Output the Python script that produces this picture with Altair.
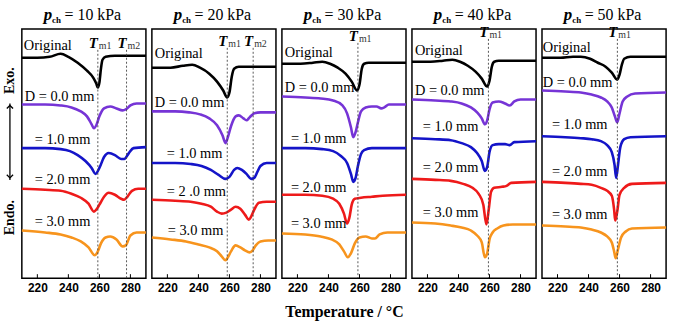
import altair as alt
import pandas as pd

# ---------------- data (T in °C, "endo" = stacked endothermic signal, a.u.) -------------
panels = ["10", "20", "30", "40", "50"]
series = ["Original", "D0", "D1", "D2", "D3"]
colors = ["#000000", "#7634d6", "#1414c8", "#ee1a1a", "#f7941d"]

p10_original = [(210,57),(220,57),(228,56),(235,53),(240,56),(246,62),(252,70),(256,77),(258,83),(259,87),(260,82),(261,68),(262,59),(264,56),(270,55),(290,55)]
p10_d0 = [(210,104),(225,104),(235,105),(242,107),(248,111),(252,116),(255,124),(256.5,128),(258,125),(260,116),(263,108),(267,106),(271,108),(275,110),(277,109),(280,105),(284,103),(290,103)]
p10_d1 = [(210,148),(225,148),(235,149),(241,151),(246,155),(251,161),(255,168),(257.5,174),(260,168),(263,157),(266,153),(270,155),(274,159),(276,159),(279,153),(282,148),(290,147)]
p10_d2 = [(210,189),(225,190),(235,191),(242,194),(248,198),(253,204),(256.5,212),(258,210),(260,205),(263,197),(266,193),(270,195),(274,199),(276,200),(278,197),(281,191),(285,189),(290,189)]
p10_d3 = [(210,231),(225,233),(235,235),(242,238),(248,242),(253,248),(257,256),(259,252),(261,244),(264,238),(267,237),(271,240),(275,247),(277,246),(280,236),(284,233),(290,233)]

p20_original = [(210,67),(222,67),(230,65),(236,64),(241,67),(247,73),(252,81),(256,90),(258.5,97),(260,92),(261.5,76),(263,68),(266,66),(290,66)]
p20_d0 = [(210,111),(225,111),(234,112),(241,114),(247,118),(252,125),(255.5,135),(257.5,143),(259,137),(261,126),(264,116),(266,115),(269,118),(271,120),(273,117),(276,113),(280,112),(290,112)]
p20_d1 = [(210,163),(225,163),(235,164),(242,166),(248,170),(253,175),(257.5,179),(260,177),(263,170),(265,168),(268,170),(271,174),(274,179),(276,178),(278,172),(280,166),(284,163),(290,163)]
p20_d2 = [(210,200),(225,201),(235,202),(242,204),(248,207),(252,212),(255,214),(258,213),(261,210),(264,207),(267,209),(270,215),(272.5,220),(274,217),(276,210),(279,203),(284,202),(290,202)]
p20_d3 = [(210,238),(222,240),(232,242),(240,245),(247,248),(252,252),(255,257),(257.5,261),(259,258),(261,252),(264,246),(267,248),(270,251),(273,253),(275,251),(277,246),(280,242),(285,241),(290,241)]

p30_original = [(210,63),(222,63),(230,62),(236,61),(241,63),(246,67),(251,73),(255,81),(258.5,90),(260,84),(261.5,68),(263,63),(266,62),(290,62)]
p30_d0 = [(210,96),(225,97),(235,98),(243,100),(249,105),(252,113),(254.5,127),(256,137),(257.5,132),(259,122),(261,111),(264,107),(268,106),(271,106),(274,108),(276,107),(279,104),(290,104)]
p30_d1 = [(210,148),(225,148),(236,149),(243,151),(248,156),(252,163),(254.5,174),(256,182),(257.5,178),(259,166),(261,154),(263,150),(268,148),(290,148)]
p30_d2 = [(210,195),(225,195),(236,196),(243,199),(247,204),(250,214),(252,224),(253.5,218),(255,205),(257,199),(261,198),(268,197),(275,196),(290,195)]
p30_d3 = [(210,234),(225,235),(235,237),(242,240),(247,245),(250,252),(252.5,258),(254.5,254),(257,244),(260,238),(264,237),(268,239),(270,239),(273,235),(278,233),(290,233)]

p40_original = [(210,61),(222,61),(230,60),(236,59),(241,61),(246,65),(251,71),(255,78),(258.5,86),(260,80),(261.5,66),(263,61),(266,60),(290,60)]
p40_d0 = [(210,99),(225,100),(235,101),(242,103),(248,107),(252,112),(255,118),(257,124),(258.5,120),(260,109),(262,102),(266,101),(270,103),(273,105),(276,101),(280,99),(290,99)]
p40_d1 = [(210,138),(225,139),(235,140),(242,143),(248,147),(252,153),(255,161),(257,171),(258.5,167),(260,152),(262,145),(266,144),(270,144),(273,145),(276,142),(290,141)]
p40_d2 = [(210,179),(225,180),(235,181),(243,184),(249,188),(253,194),(256,205),(258,225),(259.5,210),(261,192),(263,188),(268,187),(271,186),(274,183),(290,182)]
p40_d3 = [(210,223),(225,224),(235,226),(242,228),(248,231),(252,236),(255,243),(257,258),(258.5,254),(260,240),(262,233),(265,229),(269,226),(275,225),(290,225)]

p50_original = [(210,57),(222,57),(230,56),(235,56),(241,58),(246,62),(251,66),(255,72),(258.5,79),(260,74),(261.5,64),(263,58),(267,56),(290,56)]
p50_d0 = [(210,90),(225,91),(235,92),(242,94),(248,97),(252,101),(255,107),(257,116),(258.5,122),(260,113),(262,101),(265,96),(270,93),(290,92)]
p50_d1 = [(210,136),(225,137),(235,138),(242,139),(248,141),(252,145),(255,152),(256.8,165),(257.8,178),(259,165),(260.5,147),(263,139),(267,137),(290,136)]
p50_d2 = [(210,182),(225,183),(235,184),(242,185),(248,188),(252,191),(255,196),(256.5,210),(257.2,221),(258.5,212),(260,195),(263,188),(268,184),(290,183)]
p50_d3 = [(210,226),(225,227),(235,228),(242,230),(248,233),(252,237),(255,243),(256.5,252),(257.5,259),(259,250),(261,238),(264,232),(268,229),(290,228)]

curves = {
    "10": [p10_original, p10_d0, p10_d1, p10_d2, p10_d3],
    "20": [p20_original, p20_d0, p20_d1, p20_d2, p20_d3],
    "30": [p30_original, p30_d0, p30_d1, p30_d2, p30_d3],
    "40": [p40_original, p40_d0, p40_d1, p40_d2, p40_d3],
    "50": [p50_original, p50_d0, p50_d1, p50_d2, p50_d3],
}

label_text = {
    "10": ["Original", "D = 0.0 mm", "= 1.0 mm", "= 2.0 mm", "= 3.0 mm"],
    "20": ["Original", "D = 0.0 mm", "= 1.0 mm", "= 2 .0 mm", "= 3.0 mm"],
    "30": ["Original", "D = 0.0 mm", "= 1.0 mm", "= 2.0 mm", "= 3.0 mm"],
    "40": ["Original", "D = 0.0 mm", "= 1.0 mm", "= 2.0 mm", "= 3.0 mm"],
    "50": ["Original", "D = 0.0 mm", "= 1.0 mm", "= 2.0 mm", "= 3.0 mm"],
}
label_pos = {
    "10": [(211.3,45),(211.9,97),(218.3,140),(218.3,180),(218.3,222)],
    "20": [(211.9,53),(211.9,103),(219.6,154),(219.6,192),(220.2,232)],
    "30": [(211.9,52),(211.9,87),(215.8,139),(215.8,188),(215.8,224)],
    "40": [(211.9,50),(211.9,90),(217.0,127),(217.0,168),(217.0,213)],
    "50": [(210.5,47),(210.5,82),(216.4,125),(216.4,172),(216.4,215)],
}
tm_marks = {
    "10": [(259.0, "m1", 42), (277.5, "m2", 42)],
    "20": [(258.6, "m1", 40), (275.3, "m2", 40)],
    "30": [(259.0, "m1", 35)],
    "40": [(259.3, "m1", 31)],
    "50": [(258.6, "m1", 31)],
}
tick_values = [220, 240, 260, 280]

W, H = 125, 251
SERIF = "Liberation Serif"
SANS = "Liberation Sans"


def panel(p, idx):
    rows = []
    for s, pts in zip(series, curves[p]):
        for t, v in pts:
            rows.append({"T": t, "endo": v, "series": s})
    df = pd.DataFrame(rows)

    x_enc = alt.X("T:Q", scale=alt.Scale(domain=[210, 290], nice=False, zero=False),
                  axis=alt.Axis(values=tick_values, ticks=False, domain=False, grid=False,
                                labelFont=SANS, labelFontWeight="bold", labelFontSize=12,
                                labelColor="black", labelPadding=4,
                                titleFont=SERIF, titleFontWeight="bold", titleFontSize=16,
                                titleColor="black", titlePadding=11),
                  title="Temperature / °C" if idx == 2 else None)
    y_enc = alt.Y("endo:Q", scale=alt.Scale(domain=[28, 279], reverse=True, nice=False, zero=False),
                  axis=None)

    lines = alt.Chart(df).mark_line(interpolate="monotone", strokeWidth=2.6).encode(
        x=x_enc, y=y_enc,
        color=alt.Color("series:N", scale=alt.Scale(domain=series, range=colors), legend=None),
        detail="series:N",
    )

    lab_df = pd.DataFrame([{"T": t, "endo": v, "txt": s} for (t, v), s in zip(label_pos[p], label_text[p])])
    labels = alt.Chart(lab_df).mark_text(align="left", baseline="middle", font=SERIF,
                                         fontSize=14.5, color="black").encode(
        x=x_enc, y=y_enc, text="txt:N")

    tm_df = pd.DataFrame([{"T": t, "endo": v, "sub": s, "top": v + 7, "bottom": 279} for t, s, v in tm_marks[p]])
    tm_rule = alt.Chart(tm_df).mark_rule(strokeDash=[2, 2], strokeWidth=0.9, color="#444").encode(
        x=x_enc, y=alt.Y("top:Q", scale=alt.Scale(domain=[28, 279], reverse=True, nice=False, zero=False), axis=None),
        y2="bottom:Q")
    tm_T = alt.Chart(tm_df).mark_text(align="right", baseline="middle", font=SERIF, fontSize=15,
                                      fontWeight="bold", fontStyle="italic", color="black").encode(
        x=x_enc, y=y_enc, text=alt.value("T"))
    tm_sub = alt.Chart(tm_df).mark_text(align="left", baseline="middle", font=SERIF, fontSize=10,
                                        dx=1, dy=3, color="#333").encode(
        x=x_enc, y=y_enc, text="sub:N")

    tick_df = pd.DataFrame({"T": tick_values})
    ticks = alt.Chart(tick_df).mark_rule(color="black", strokeWidth=1).encode(
        x=x_enc, y=alt.value(H), y2=alt.value(H - 4))

    t_p = alt.Chart(pd.DataFrame({"s": ["p"]})).mark_text(
        align="left", baseline="alphabetic", font=SERIF, fontSize=17, fontWeight="bold",
        fontStyle="italic", color="black").encode(x=alt.value(22), y=alt.value(-9), text="s:N")
    t_ch = alt.Chart(pd.DataFrame({"s": ["ch"]})).mark_text(
        align="left", baseline="alphabetic", font=SERIF, fontSize=9, fontWeight="bold",
        color="black").encode(x=alt.value(30.5), y=alt.value(-6), text="s:N")
    t_rest = alt.Chart(pd.DataFrame({"s": [f"= {p} kPa"]})).mark_text(
        align="left", baseline="alphabetic", font=SERIF, fontSize=16,
        color="black").encode(x=alt.value(43), y=alt.value(-9), text="s:N")

    layers = [lines, tm_rule, ticks, labels, tm_T, tm_sub, t_p, t_ch, t_rest]

    if idx == 0:
        exo = alt.Chart(pd.DataFrame({"s": ["Exo."]})).mark_text(
            angle=270, font=SERIF, fontSize=14, fontWeight="bold", color="black",
            align="center", baseline="middle").encode(x=alt.value(-12), y=alt.value(52), text="s:N")
        endo = alt.Chart(pd.DataFrame({"s": ["Endo."]})).mark_text(
            angle=270, font=SERIF, fontSize=14, fontWeight="bold", color="black",
            align="center", baseline="middle").encode(x=alt.value(-12), y=alt.value(190), text="s:N")
        arrow = alt.Chart(pd.DataFrame({"s": ["a"]})).mark_rule(color="black", strokeWidth=1.3).encode(
            x=alt.value(-12), y=alt.value(75), y2=alt.value(152))
        head_up = alt.Chart(pd.DataFrame({"s": ["a"]})).mark_point(
            shape="M-1,1L0,0L1,1", size=40, filled=False, color="black", strokeWidth=1.3, opacity=1).encode(
            x=alt.value(-12), y=alt.value(77))
        head_dn = alt.Chart(pd.DataFrame({"s": ["a"]})).mark_point(
            shape="M-1,-1L0,0L1,-1", size=40, filled=False, color="black", strokeWidth=1.3, opacity=1).encode(
            x=alt.value(-12), y=alt.value(150))
        layers += [exo, endo, arrow, head_up, head_dn]

    return alt.layer(*layers).properties(width=W, height=H)


chart = alt.hconcat(*[panel(p, i) for i, p in enumerate(panels)], spacing=6, bounds="flush").properties(
    padding={"left": 2, "top": 4, "right": 5, "bottom": 5},
    background="white",
).configure_view(stroke="black", strokeWidth=1.5)

chart.save("out.html", embed_options={"renderer": "svg", "actions": False})
